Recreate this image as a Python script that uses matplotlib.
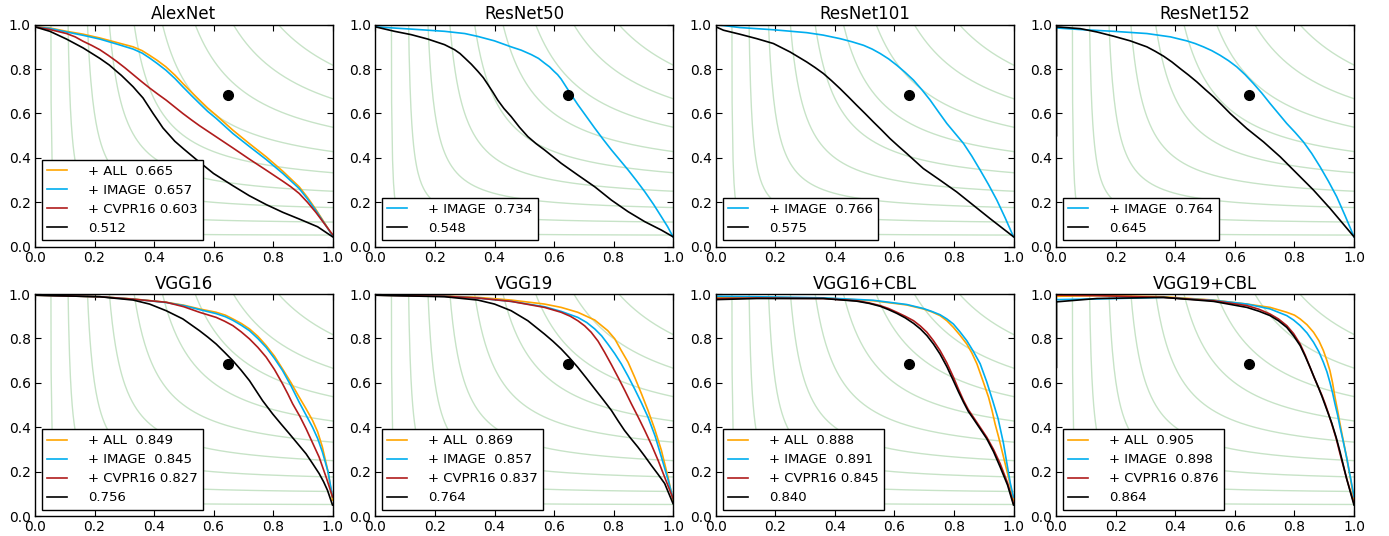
import numpy as np
import matplotlib
matplotlib.use('Agg')
import matplotlib.pyplot as plt

# precision-recall curves, values as (recall, precision)
TITLES = ['AlexNet', 'ResNet50', 'ResNet101', 'ResNet152',
          'VGG16', 'VGG19', 'VGG16+CBL', 'VGG19+CBL']
HUMAN = (0.648, 0.684)
F_LEVELS = [0.1, 0.2, 0.3, 0.4, 0.5, 0.6, 0.7, 0.8, 0.9]

# AlexNet
ALEX_ALL = [(0, 0.99), (0.05, 0.985), (0.106, 0.97), (0.162, 0.957), (0.218, 0.94), (0.274, 0.92),
            (0.33, 0.9), (0.36, 0.883), (0.385, 0.862), (0.41, 0.84), (0.44, 0.81), (0.47, 0.773),
            (0.497, 0.735), (0.525, 0.697), (0.553, 0.66), (0.58, 0.625), (0.609, 0.592), (0.665, 0.525),
            (0.72, 0.465), (0.777, 0.405), (0.833, 0.34), (0.888, 0.27), (0.916, 0.222), (0.944, 0.168),
            (0.972, 0.11), (1.0, 0.05)]
ALEX_IMAGE = [(0, 0.99), (0.05, 0.983), (0.106, 0.967), (0.162, 0.952), (0.218, 0.935), (0.274, 0.913),
              (0.33, 0.89), (0.36, 0.872), (0.385, 0.85), (0.41, 0.826), (0.44, 0.795), (0.47, 0.758),
              (0.497, 0.72), (0.525, 0.682), (0.553, 0.645), (0.58, 0.61), (0.609, 0.578), (0.665, 0.51),
              (0.72, 0.452), (0.777, 0.393), (0.833, 0.33), (0.888, 0.262), (0.916, 0.215), (0.944, 0.163),
              (0.972, 0.107), (1.0, 0.05)]
ALEX_CVPR = [(0, 0.99), (0.05, 0.978), (0.106, 0.96), (0.135, 0.945), (0.162, 0.925), (0.19, 0.907),
             (0.218, 0.887), (0.246, 0.862), (0.274, 0.835), (0.302, 0.806), (0.33, 0.775), (0.357, 0.745),
             (0.385, 0.715), (0.413, 0.687), (0.441, 0.66), (0.469, 0.63), (0.497, 0.6), (0.525, 0.572),
             (0.553, 0.545), (0.609, 0.495), (0.665, 0.445), (0.72, 0.395), (0.777, 0.345), (0.833, 0.295),
             (0.86, 0.27), (0.888, 0.24), (0.916, 0.2), (0.944, 0.155), (0.972, 0.105), (1.0, 0.055)]
ALEX_BASE = [(0, 0.99), (0.05, 0.97), (0.106, 0.935), (0.162, 0.895), (0.218, 0.848), (0.25, 0.818),
             (0.274, 0.79), (0.29, 0.772), (0.307, 0.75), (0.33, 0.72), (0.345, 0.697), (0.363, 0.67),
             (0.38, 0.635), (0.397, 0.6), (0.415, 0.565), (0.43, 0.535), (0.45, 0.505), (0.47, 0.475),
             (0.5, 0.44), (0.542, 0.393), (0.6, 0.33), (0.665, 0.275), (0.72, 0.23), (0.777, 0.19),
             (0.833, 0.155), (0.888, 0.125), (0.95, 0.09), (1.0, 0.045)]

# ResNet50
R50_IMAGE = [(0, 0.99), (0.06, 0.985), (0.12, 0.98), (0.232, 0.97), (0.3, 0.96), (0.344, 0.947),
             (0.4, 0.927), (0.456, 0.9), (0.49, 0.885), (0.524, 0.865), (0.548, 0.848), (0.568, 0.827),
             (0.585, 0.81), (0.6, 0.79), (0.612, 0.775), (0.624, 0.755), (0.636, 0.73), (0.648, 0.705),
             (0.664, 0.672), (0.68, 0.64), (0.708, 0.588), (0.737, 0.534), (0.765, 0.484), (0.793, 0.436),
             (0.821, 0.391), (0.849, 0.346), (0.877, 0.298), (0.905, 0.248), (0.935, 0.19), (0.961, 0.135),
             (0.982, 0.09), (1.0, 0.045)]
R50_BASE = [(0, 0.99), (0.064, 0.97), (0.12, 0.955), (0.176, 0.935), (0.232, 0.91), (0.266, 0.887),
            (0.284, 0.87), (0.3, 0.85), (0.322, 0.822), (0.344, 0.79), (0.362, 0.762), (0.378, 0.73),
            (0.395, 0.695), (0.411, 0.66), (0.432, 0.622), (0.456, 0.586), (0.484, 0.538), (0.512, 0.496),
            (0.54, 0.464), (0.568, 0.436), (0.596, 0.406), (0.624, 0.376), (0.68, 0.323), (0.737, 0.27),
            (0.793, 0.21), (0.849, 0.158), (0.905, 0.113), (0.961, 0.075), (1.0, 0.045)]

# ResNet101
R101_IMAGE = [(0, 1.0), (0.08, 0.987), (0.193, 0.977), (0.305, 0.964), (0.36, 0.953), (0.417, 0.937),
              (0.457, 0.923), (0.496, 0.907), (0.525, 0.89), (0.552, 0.87), (0.58, 0.846), (0.608, 0.817),
              (0.636, 0.785), (0.664, 0.75), (0.692, 0.707), (0.72, 0.66), (0.748, 0.607), (0.776, 0.555),
              (0.804, 0.51), (0.832, 0.465), (0.86, 0.408), (0.888, 0.345), (0.916, 0.28), (0.944, 0.21),
              (0.972, 0.13), (1.0, 0.045)]
R101_BASE = [(0, 0.99), (0.025, 0.975), (0.08, 0.957), (0.137, 0.937), (0.193, 0.915), (0.249, 0.877),
             (0.305, 0.832), (0.333, 0.807), (0.361, 0.78), (0.389, 0.747), (0.417, 0.712), (0.445, 0.675),
             (0.473, 0.637), (0.501, 0.6), (0.529, 0.562), (0.557, 0.525), (0.585, 0.487), (0.613, 0.453),
             (0.641, 0.42), (0.697, 0.352), (0.753, 0.3), (0.809, 0.247), (0.865, 0.187), (0.921, 0.127),
             (1.0, 0.045)]

# ResNet152
R152_IMAGE = [(0, 0.985), (0.08, 0.978), (0.192, 0.97), (0.304, 0.96), (0.383, 0.945), (0.438, 0.927),
              (0.466, 0.915), (0.494, 0.9), (0.522, 0.883), (0.55, 0.862), (0.578, 0.838), (0.606, 0.81),
              (0.634, 0.775), (0.662, 0.735), (0.69, 0.692), (0.718, 0.645), (0.746, 0.6), (0.774, 0.555),
              (0.802, 0.515), (0.83, 0.472), (0.858, 0.42), (0.886, 0.36), (0.914, 0.295), (0.942, 0.225),
              (0.97, 0.14), (1.0, 0.045)]
R152_BASE = [(0, 0.5), (0, 0.99), (0.08, 0.982), (0.136, 0.967), (0.192, 0.948), (0.248, 0.927),
             (0.304, 0.9), (0.332, 0.88), (0.36, 0.858), (0.388, 0.832), (0.416, 0.802), (0.444, 0.773),
             (0.472, 0.742), (0.5, 0.708), (0.528, 0.675), (0.556, 0.638), (0.584, 0.6), (0.612, 0.566),
             (0.64, 0.532), (0.696, 0.472), (0.752, 0.405), (0.808, 0.33), (0.864, 0.255), (0.92, 0.172),
             (1.0, 0.045)]

# VGG16
V16_ALL = [(0, 0.995), (0.218, 0.988), (0.33, 0.978), (0.441, 0.963), (0.5, 0.95), (0.553, 0.933),
           (0.609, 0.918), (0.64, 0.905), (0.665, 0.888), (0.693, 0.868), (0.721, 0.843), (0.749, 0.81),
           (0.777, 0.768), (0.805, 0.72), (0.832, 0.663), (0.86, 0.602), (0.888, 0.536), (0.91, 0.486),
           (0.933, 0.431), (0.95, 0.38), (0.966, 0.311), (0.985, 0.2), (1.0, 0.072)]
V16_IMAGE = [(0, 0.995), (0.218, 0.988), (0.33, 0.977), (0.441, 0.962), (0.5, 0.948), (0.553, 0.93),
             (0.609, 0.912), (0.64, 0.898), (0.665, 0.882), (0.693, 0.86), (0.721, 0.835), (0.749, 0.8),
             (0.777, 0.76), (0.805, 0.71), (0.832, 0.656), (0.86, 0.588), (0.888, 0.513), (0.91, 0.458),
             (0.933, 0.40), (0.95, 0.35), (0.966, 0.289), (0.985, 0.2), (1.0, 0.087)]
V16_CVPR = [(0, 0.995), (0.218, 0.988), (0.33, 0.977), (0.441, 0.963), (0.5, 0.943), (0.553, 0.918),
            (0.609, 0.895), (0.637, 0.878), (0.665, 0.858), (0.693, 0.83), (0.721, 0.798), (0.749, 0.76),
            (0.777, 0.716), (0.805, 0.66), (0.832, 0.596), (0.85, 0.55), (0.866, 0.506), (0.89, 0.45),
            (0.911, 0.394), (0.933, 0.33), (0.955, 0.266), (0.98, 0.17), (1.0, 0.087)]
V16_BASE = [(0, 0.995), (0.218, 0.988), (0.33, 0.973), (0.385, 0.955), (0.441, 0.925), (0.497, 0.888),
            (0.553, 0.835), (0.581, 0.806), (0.609, 0.775), (0.637, 0.738), (0.665, 0.70), (0.693, 0.657),
            (0.721, 0.61), (0.743, 0.565), (0.765, 0.52), (0.782, 0.49), (0.799, 0.46), (0.827, 0.415),
            (0.855, 0.371), (0.883, 0.326), (0.911, 0.281), (0.933, 0.237), (0.955, 0.192), (0.97, 0.155),
            (0.983, 0.117), (1.0, 0.05)]

# VGG19
V19_ALL = [(0, 0.995), (0.232, 0.991), (0.344, 0.985), (0.456, 0.973), (0.568, 0.955), (0.624, 0.94),
           (0.68, 0.918), (0.737, 0.883), (0.781, 0.835), (0.804, 0.799), (0.826, 0.746), (0.849, 0.693),
           (0.871, 0.626), (0.894, 0.551), (0.916, 0.476), (0.938, 0.394), (0.961, 0.296), (0.983, 0.177),
           (1.0, 0.072)]
V19_IMAGE = [(0, 0.995), (0.232, 0.99), (0.344, 0.982), (0.456, 0.967), (0.568, 0.943), (0.624, 0.922),
             (0.68, 0.895), (0.71, 0.872), (0.737, 0.843), (0.76, 0.812), (0.781, 0.775), (0.804, 0.732),
             (0.826, 0.686), (0.849, 0.63), (0.871, 0.573), (0.894, 0.51), (0.916, 0.446), (0.94, 0.36),
             (0.961, 0.266), (0.982, 0.17), (1.0, 0.08)]
V19_CVPR = [(0, 0.995), (0.232, 0.99), (0.344, 0.982), (0.456, 0.967), (0.568, 0.94), (0.624, 0.918),
            (0.655, 0.9), (0.68, 0.88), (0.703, 0.857), (0.725, 0.828), (0.748, 0.788), (0.77, 0.738),
            (0.793, 0.682), (0.815, 0.626), (0.838, 0.566), (0.86, 0.506), (0.883, 0.446), (0.905, 0.386),
            (0.928, 0.32), (0.95, 0.251), (0.975, 0.165), (1.0, 0.08)]
V19_BASE = [(0, 0.995), (0.232, 0.988), (0.344, 0.973), (0.4, 0.955), (0.456, 0.925), (0.512, 0.88),
            (0.568, 0.82), (0.596, 0.788), (0.624, 0.753), (0.652, 0.713), (0.68, 0.67), (0.708, 0.623),
            (0.737, 0.573), (0.765, 0.525), (0.793, 0.476), (0.815, 0.43), (0.837, 0.386), (0.86, 0.347),
            (0.882, 0.311), (0.905, 0.27), (0.927, 0.229), (0.95, 0.188), (0.972, 0.147), (1.0, 0.057)]

# VGG16+CBL
V16C_ALL = [(0, 0.985), (0.137, 0.985), (0.361, 0.982), (0.529, 0.97), (0.641, 0.951), (0.697, 0.933),
            (0.725, 0.92), (0.753, 0.903), (0.776, 0.88), (0.798, 0.85), (0.82, 0.815), (0.843, 0.775),
            (0.86, 0.735), (0.877, 0.686), (0.897, 0.61), (0.916, 0.536), (0.928, 0.475), (0.938, 0.416),
            (0.95, 0.356), (0.961, 0.296), (0.983, 0.176), (1.0, 0.072)]
V16C_IMAGE = [(0, 0.99), (0.137, 0.988), (0.361, 0.983), (0.529, 0.972), (0.641, 0.953), (0.697, 0.935),
              (0.725, 0.922), (0.753, 0.907), (0.776, 0.888), (0.798, 0.865), (0.82, 0.83), (0.843, 0.79),
              (0.865, 0.742), (0.888, 0.686), (0.91, 0.605), (0.93, 0.52), (0.948, 0.44), (0.966, 0.33),
              (0.989, 0.15), (1.0, 0.085)]
V16C_CVPR = [(0, 0.98), (0.137, 0.982), (0.361, 0.98), (0.473, 0.97), (0.515, 0.96), (0.552, 0.948),
             (0.58, 0.935), (0.608, 0.918), (0.636, 0.9), (0.664, 0.88), (0.687, 0.856), (0.709, 0.828),
             (0.731, 0.79), (0.753, 0.746), (0.776, 0.69), (0.798, 0.626), (0.815, 0.572), (0.832, 0.521),
             (0.848, 0.48), (0.865, 0.446), (0.888, 0.4), (0.91, 0.356), (0.933, 0.3), (0.955, 0.237),
             (0.98, 0.15), (1.0, 0.057)]
V16C_BASE = [(0, 0.975), (0.137, 0.98), (0.361, 0.98), (0.473, 0.968), (0.515, 0.958), (0.552, 0.945),
             (0.58, 0.93), (0.608, 0.913), (0.636, 0.893), (0.664, 0.868), (0.687, 0.843), (0.709, 0.813),
             (0.731, 0.775), (0.753, 0.73), (0.776, 0.673), (0.798, 0.61), (0.815, 0.56), (0.832, 0.513),
             (0.848, 0.472), (0.865, 0.439), (0.888, 0.393), (0.91, 0.349), (0.933, 0.29), (0.955, 0.222),
             (0.98, 0.14), (1.0, 0.05)]

# VGG19+CBL
V19C_ALL = [(0, 0.99), (0.136, 0.993), (0.36, 0.988), (0.528, 0.973), (0.64, 0.955), (0.718, 0.94),
            (0.774, 0.918), (0.8, 0.905), (0.819, 0.888), (0.842, 0.862), (0.864, 0.828), (0.882, 0.79),
            (0.897, 0.746), (0.909, 0.7), (0.919, 0.656), (0.928, 0.6), (0.936, 0.536), (0.945, 0.475),
            (0.953, 0.416), (0.964, 0.34), (0.975, 0.266), (0.988, 0.17), (1.0, 0.072)]
V19C_IMAGE = [(0, 0.975), (0.136, 0.978), (0.36, 0.985), (0.528, 0.972), (0.64, 0.955), (0.718, 0.933),
              (0.774, 0.903), (0.797, 0.883), (0.819, 0.858), (0.842, 0.825), (0.864, 0.783), (0.882, 0.74),
              (0.897, 0.693), (0.909, 0.65), (0.919, 0.603), (0.928, 0.555), (0.936, 0.506), (0.945, 0.455),
              (0.953, 0.401), (0.964, 0.335), (0.975, 0.266), (0.988, 0.175), (1.0, 0.087)]
V19C_CVPR = [(0, 0.995), (0.136, 0.993), (0.36, 0.985), (0.528, 0.97), (0.64, 0.948), (0.68, 0.932),
             (0.718, 0.91), (0.746, 0.888), (0.774, 0.858), (0.797, 0.822), (0.819, 0.775), (0.836, 0.725),
             (0.852, 0.671), (0.866, 0.625), (0.88, 0.581), (0.892, 0.545), (0.903, 0.506), (0.914, 0.463),
             (0.925, 0.416), (0.94, 0.35), (0.953, 0.281), (0.975, 0.17), (1.0, 0.057)]
V19C_BASE = [(0, 0.67), (0, 0.965), (0.136, 0.98), (0.36, 0.985), (0.528, 0.967), (0.64, 0.94),
             (0.68, 0.923), (0.718, 0.903), (0.746, 0.88), (0.774, 0.85), (0.797, 0.812), (0.819, 0.768),
             (0.836, 0.72), (0.852, 0.671), (0.866, 0.625), (0.88, 0.581), (0.892, 0.54), (0.903, 0.5),
             (0.914, 0.46), (0.925, 0.42), (0.94, 0.355), (0.953, 0.29), (0.975, 0.17), (1.0, 0.05)]

# legend labels (F-measure)
ALEX_LABELS = ['+ ALL  0.665', '+ IMAGE  0.657', '+ CVPR16 0.603', '0.512']
R50_LABELS = ['+ IMAGE  0.734', '0.548']
R101_LABELS = ['+ IMAGE  0.766', '0.575']
R152_LABELS = ['+ IMAGE  0.764', '0.645']
V16_LABELS = ['+ ALL  0.849', '+ IMAGE  0.845', '+ CVPR16 0.827', '0.756']
V19_LABELS = ['+ ALL  0.869', '+ IMAGE  0.857', '+ CVPR16 0.837', '0.764']
V16C_LABELS = ['+ ALL  0.888', '+ IMAGE  0.891', '+ CVPR16 0.845', '0.840']
V19C_LABELS = ['+ ALL  0.905', '+ IMAGE  0.898', '+ CVPR16 0.876', '0.864']

C_ALL, C_IMAGE, C_CVPR, C_BASE = '#FFA500', '#00AEEF', '#B01C1C', 'black'
FULL_COLORS = [C_ALL, C_IMAGE, C_CVPR, C_BASE]
RES_COLORS = [C_IMAGE, C_BASE]

panels = [
    ([ALEX_ALL, ALEX_IMAGE, ALEX_CVPR, ALEX_BASE], ALEX_LABELS, FULL_COLORS),
    ([R50_IMAGE, R50_BASE], R50_LABELS, RES_COLORS),
    ([R101_IMAGE, R101_BASE], R101_LABELS, RES_COLORS),
    ([R152_IMAGE, R152_BASE], R152_LABELS, RES_COLORS),
    ([V16_ALL, V16_IMAGE, V16_CVPR, V16_BASE], V16_LABELS, FULL_COLORS),
    ([V19_ALL, V19_IMAGE, V19_CVPR, V19_BASE], V19_LABELS, FULL_COLORS),
    ([V16C_ALL, V16C_IMAGE, V16C_CVPR, V16C_BASE], V16C_LABELS, FULL_COLORS),
    ([V19C_ALL, V19C_IMAGE, V19C_CVPR, V19C_BASE], V19C_LABELS, FULL_COLORS),
]

plt.rcParams['font.family'] = 'DejaVu Sans'
plt.rcParams['xtick.direction'] = 'in'
plt.rcParams['ytick.direction'] = 'in'
plt.rcParams['xtick.top'] = True
plt.rcParams['ytick.right'] = True

fig, axes = plt.subplots(2, 4, figsize=(13.89, 5.36), dpi=100)
fig.subplots_adjust(left=0.0252, right=0.9748, bottom=0.037, top=0.954, wspace=0.1445, hspace=0.213)

for ax, title, (curves, labels, colors) in zip(axes.flat, TITLES, panels):
    # iso F-measure lines
    for f in F_LEVELS:
        r = np.linspace(f / 2 + 1e-3, 1, 300)
        p = f * r / (2 * r - f)
        ax.plot(r, p, color='green', alpha=0.22, lw=1.0)
    for pts, lab, col in zip(curves, labels, colors):
        pts = np.array(pts)
        ax.plot(pts[:, 0], pts[:, 1], color=col, lw=1.2, label=lab, solid_joinstyle='round')
    ax.plot([HUMAN[0]], [HUMAN[1]], 'o', color='black', ms=7)
    ax.set_xlim(0, 1)
    ax.set_ylim(0, 1)
    ticks = np.arange(0, 1.01, 0.2)
    ax.set_xticks(ticks)
    ax.set_yticks(ticks)
    ax.set_xticklabels(['%.1f' % t for t in ticks])
    ax.set_yticklabels(['%.1f' % t for t in ticks])
    ax.tick_params(labelsize=10, length=4, width=0.8, pad=3)
    for s in ax.spines.values():
        s.set_linewidth(1.0)
    ax.set_title(title, fontsize=12, pad=4)
    leg = ax.legend(loc='lower left', fontsize=9.5, handlelength=1.5, handletextpad=1.6,
                    labelspacing=0.45, borderpad=0.4, fancybox=False, framealpha=1)
    leg.get_frame().set_edgecolor('black')
    leg.get_frame().set_linewidth(1.0)

fig.savefig('out.png', dpi=100, facecolor='white')
